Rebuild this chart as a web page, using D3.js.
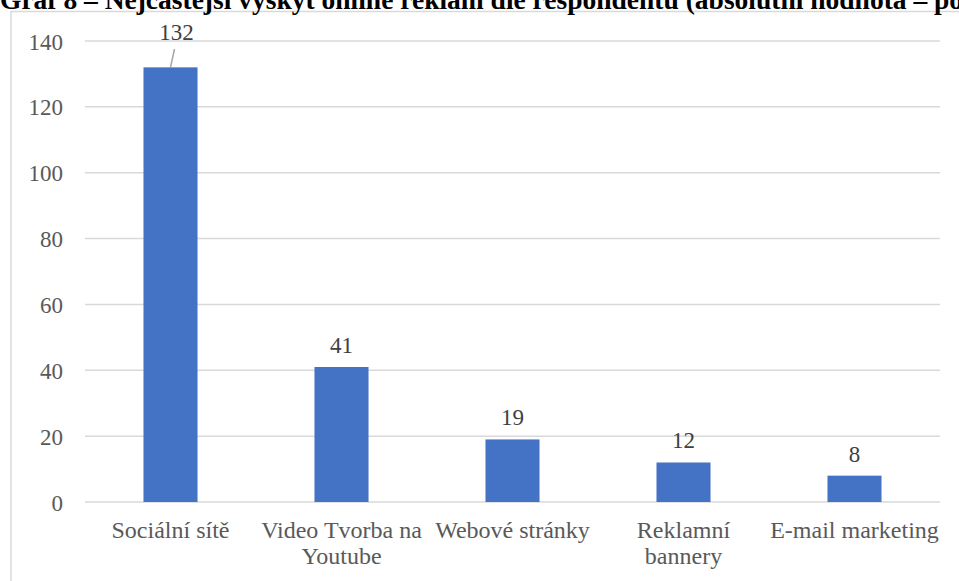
<!DOCTYPE html>
<html><head><meta charset="utf-8">
<script src="https://cdn.jsdelivr.net/npm/d3@7"></script>
<style>body{margin:0;background:#fff;overflow:hidden}svg{display:block}
text{font-family:"Liberation Serif","DejaVu Serif",serif}</style>
</head><body>
<script>
const categories = [["Sociální sítě"], ["Video Tvorba na", "Youtube"], ["Webové stránky"], ["Reklamní", "bannery"], ["E-mail marketing"]];
const values = [132, 41, 19, 12, 8];
const yTicks = [0, 20, 40, 60, 80, 100, 120, 140];
const title = "Graf 8 – Nejčastější výskyt online reklam dle respondentů (absolutní hodnota – počet respondentů)";

const W = 959, H = 581;
const svg = d3.select("body").append("svg").attr("width", W).attr("height", H);

// chart border
svg.append("rect").attr("x", 11).attr("y", 11.5).attr("width", 960).attr("height", 600)
  .attr("fill", "none").attr("stroke", "#d9d9d9").attr("stroke-width", 1.5);

// title (clipped at top as in the source)
svg.append("text").attr("x", 0).attr("y", 9).text(title)
  .attr("font-weight", "bold").attr("font-size", 27.5).attr("fill", "#000");

const x = d3.scaleBand().domain(d3.range(values.length)).range([85, 940]).paddingInner(0.684).paddingOuter(0.342);
const y = d3.scaleLinear().domain([0, 140]).range([502, 41]);

// gridlines
svg.append("g").selectAll("line").data(yTicks).join("line")
  .attr("x1", 85).attr("x2", 940).attr("y1", d => y(d)).attr("y2", d => y(d))
  .attr("stroke", "#d9d9d9").attr("stroke-width", 1.5);

// y axis labels
const yAxis = d3.axisLeft(y).tickValues(yTicks).tickSize(0).tickPadding(0);
const gy = svg.append("g").attr("transform", "translate(63,0)").call(yAxis);
gy.select(".domain").remove();
gy.selectAll("text").attr("font-family", null).attr("font-size", 23).attr("fill", "#595959").attr("dy", "0.35em");

// bars
svg.append("g").selectAll("rect").data(values).join("rect")
  .attr("x", (d, i) => x(i)).attr("width", x.bandwidth())
  .attr("y", d => y(d)).attr("height", d => y(0) - y(d))
  .attr("fill", "#4472C4");

// data labels
svg.append("g").selectAll("text").data(values).join("text")
  .attr("x", (d, i) => x(i) + x.bandwidth() / 2 + (i === 0 ? 6 : 0))
  .attr("y", (d, i) => i === 0 ? 40 : y(d) - 14)
  .attr("text-anchor", "middle")
  .attr("font-size", 23).attr("fill", "#404040")
  .text(d => d);

// leader line for first label
svg.append("line")
  .attr("x1", x(0) + x.bandwidth() / 2 + 4).attr("y1", 49)
  .attr("x2", x(0) + x.bandwidth() / 2).attr("y2", y(values[0]))
  .attr("stroke", "#a6a6a6").attr("stroke-width", 1.5);

// x labels
const gx = svg.append("g");
categories.forEach((lines, i) => {
  const cx = x(i) + x.bandwidth() / 2;
  const t = gx.append("text").attr("x", cx).attr("y", 538)
    .attr("text-anchor", "middle").attr("font-size", 24).attr("fill", "#595959");
  lines.forEach((l, j) => t.append("tspan").attr("x", cx).attr("dy", j === 0 ? 0 : 26).text(l));
});
</script>
</body></html>
